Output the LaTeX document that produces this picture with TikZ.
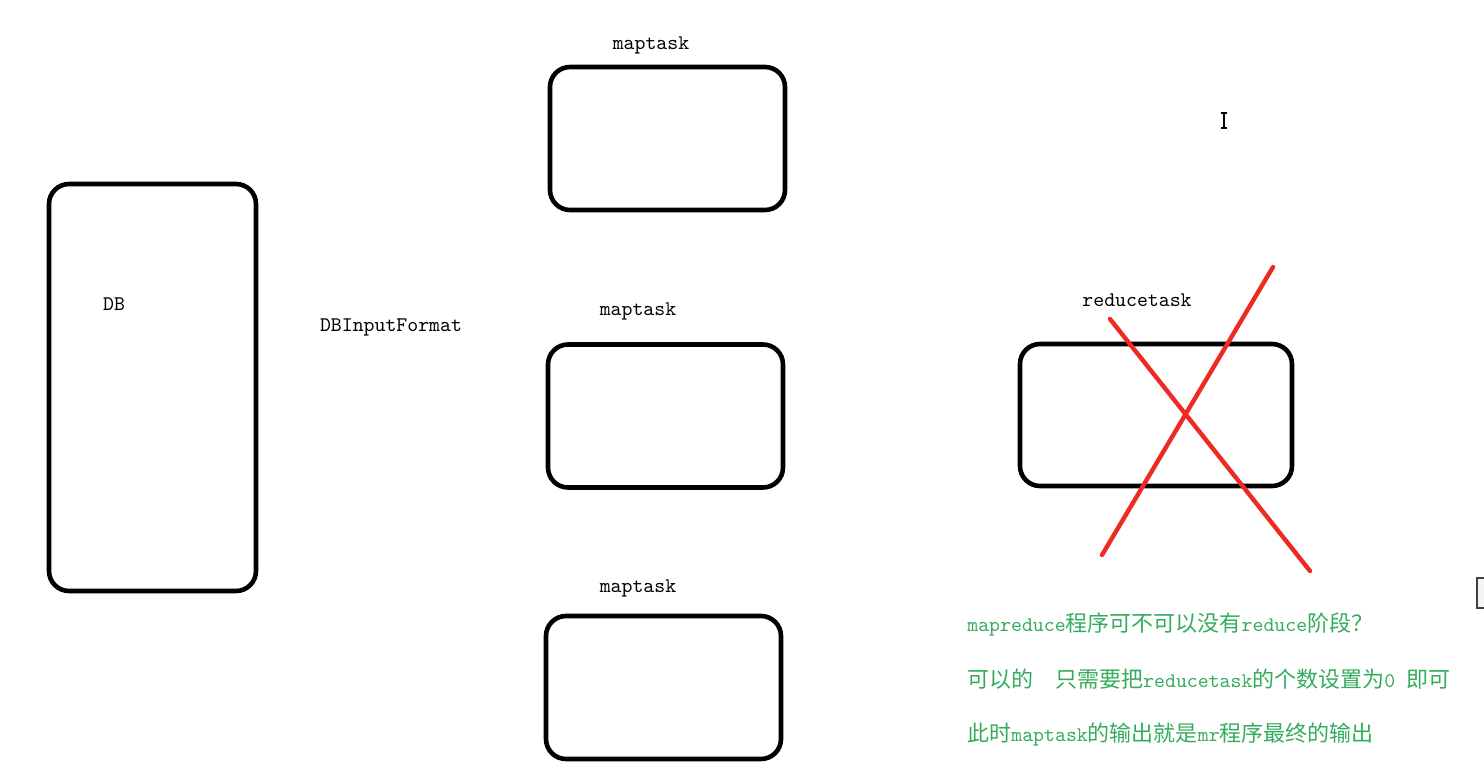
\documentclass[tikz,border=0pt]{standalone}
\usepackage{fontspec}
\newfontfamily\cjkfont{Noto Sans CJK SC}
\usetikzlibrary{positioning, calc}
\definecolor{notegreen}{RGB}{52,172,92}
\definecolor{crossred}{RGB}{238,42,36}
\newcommand{\zhtext}[1]{{\cjkfont\fontsize{11}{12}\selectfont #1}}
\tikzstyle{taskbox} = [rectangle, rounded corners=10pt, draw=black, line width=2.3pt, minimum width=117.5pt, minimum height=71.5pt]
\tikzstyle{tasklabel} = [font=\ttfamily\fontsize{10.4}{12}\selectfont, inner sep=0pt]
\tikzstyle{notetext} = [tasklabel, text=notegreen, anchor=west]
\tikzstyle{crossline} = [draw=crossred, line width=2.2pt, line cap=round]

\begin{document}
\begin{tikzpicture}[x=0.5pt, y=-0.5pt]
\useasboundingbox (0,0) rectangle (1484,776);
% boxes
\node (db) [taskbox, minimum width=103.5pt, minimum height=203.5pt] at (152.5,387.5) {};
\node (map1) [taskbox] at (667.5,138.5) {};
\node (map2) [taskbox] at (665.5,416) {};
\node (map3) [taskbox] at (663.5,687.5) {};
\node (reduce) [taskbox, minimum width=136pt, minimum height=71pt] at (1156,415) {};
% labels
\node (dblabel) [tasklabel] at (114,304) {DB};
\node (fmtlabel) [tasklabel] at (391,327) {DBInputFormat};
\node (map1label) [tasklabel] at ([shift={(-8.25pt,9.5pt)}]map1.north) {maptask};
\node (map2label) [tasklabel] at ([shift={(-13.75pt,15.5pt)}]map2.north) {maptask};
\node (map3label) [tasklabel] at ([shift={(-12.75pt,12.5pt)}]map3.north) {maptask};
\node (reducelabel) [tasklabel] at ([shift={(-9.5pt,20.5pt)}]reduce.north) {reducetask};
% red cross over the reduce task
\coordinate (c1) at (1110,319);
\coordinate (c2) at (1310,571);
\coordinate (c3) at (1273,267);
\coordinate (c4) at (1102,555);
\draw [crossline] (c1) -- (c2);
\draw [crossline] (c3) -- (c4);
% notes
\node (note1) [notetext] at (967,624) {mapreduce\zhtext{程序可不可以没有}reduce\zhtext{阶段？}};
\node (note2) [notetext] at (967,679) {\zhtext{可以的}\ \ \zhtext{只需要把}reducetask\zhtext{的个数设置为}0 \zhtext{即可}};
\node (note3) [notetext] at (967,735) {\zhtext{此时}maptask\zhtext{的输出就是}mr\zhtext{程序最终的输出}};
% text cursor and window edge
\draw [line width=0.8pt] (1224,113) -- (1224,128);
\draw [line width=0.8pt] (1221,113) -- (1227,113);
\draw [line width=0.8pt] (1221,128) -- (1227,128);
\draw [draw=black!75, fill=black!4, line width=0.6pt] (1477,578) rectangle (1490,608);
\end{tikzpicture}
\end{document}
